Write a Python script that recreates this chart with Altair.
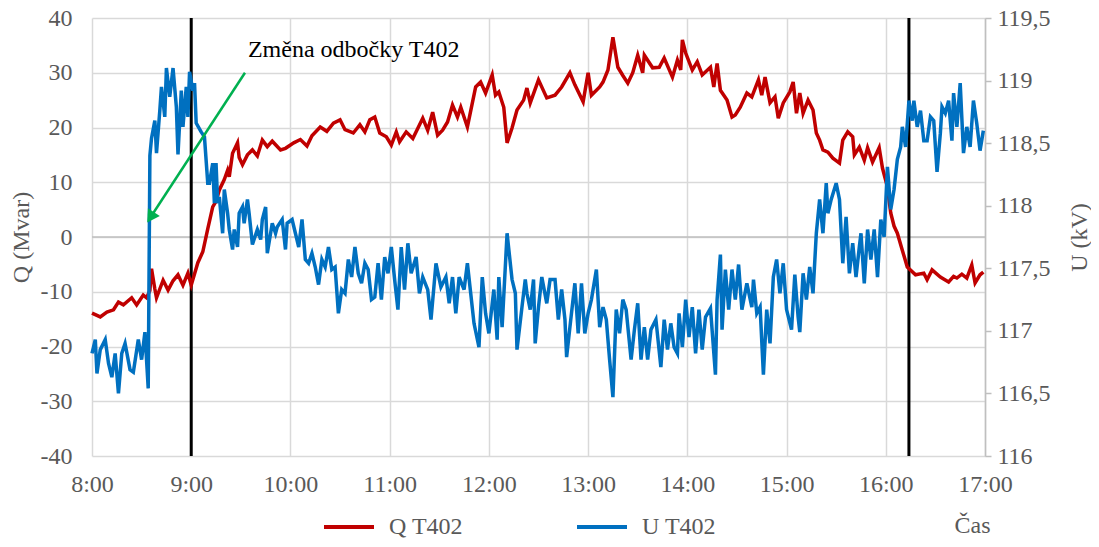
import altair as alt
import pandas as pd

# ---- data (minutes after 8:00) ----
q_minutes = [0,5,9,13,16,19,24,27,31,33,35,36,38,39,43,46,49,52,55,58,60,64,67,70,73,75,77,80,82,83,85,88,89,91,94,97,100,103,106,109,114,117,122,126,130,133,138,142,146,150,153,158,162,165,168,171,174,178,181,184,186,190,194,200,203,206,209,212,215,218,221,223,227,232,235,238,242,244,246,249,251,254,257,261,263,265,270,275,280,284,289,292,297,300,302,307,309,312,315,318,321,324,327,330,333,334,339,343,346,351,354,356,357,359,363,366,369,374,376,378,380,384,387,389,392,396,399,403,405,407,410,413,415,418,422,424,426,428,430,433,436,438,440,442,445,448,452,454,457,460,461,464,467,469,472,476,478,481,483,485,487,490,493,498,503,505,508,513,518,521,523,526,529,532,534,537,539]
q_values = [-13.9,-14.6,-13.7,-13.3,-11.9,-12.4,-11.1,-12.4,-10.6,-11.1,-9.8,-5.8,-9.5,-11.1,-7.9,-9.7,-8.0,-6.9,-8.8,-6.6,-8.8,-4.7,-2.7,1.5,5.5,6.5,8.6,10.5,12.2,11.0,15.3,17.2,14.5,13.2,15.0,15.9,14.8,17.7,16.5,17.5,15.9,16.2,17.2,17.8,16.6,18.5,20.1,19.3,20.8,21.4,19.6,19.0,20.5,19.2,21.4,21.9,19.0,18.3,16.8,19.2,17.4,19.2,18.0,21.7,19.5,22.8,18.6,19.5,21.0,24.1,21.9,23.7,20.1,27.4,28.3,26.3,29.6,25.9,26.5,23.7,17.2,19.9,23.2,25.0,27.2,24.5,28.7,25.4,25.9,27.4,30.0,27.8,24.7,30.0,25.9,27.4,28.3,30.5,36.5,31.0,29.5,28.1,30.0,33.2,30.0,33.2,30.9,31.0,32.7,29.2,32.3,30.5,36.0,33.6,30.5,32.0,29.6,31.0,27.4,31.7,26.8,25.0,21.9,22.3,23.7,26.3,25.6,28.7,25.9,29.2,24.5,25.6,21.7,24.5,26.5,28.3,22.6,26.3,22.6,25.0,23.2,19.0,17.7,15.9,15.5,14.4,13.5,17.7,19.2,18.3,15.0,16.4,14.0,16.3,13.7,16.3,12.6,9.1,4.4,2.0,0.7,-2.4,-5.5,-6.9,-6.6,-7.8,-6.0,-7.3,-8.2,-7.2,-7.5,-6.8,-7.5,-5.1,-8.4,-6.9,-6.4]

u_minutes = [0,2,3,5,8,10,12,14,16,18,20,23,25,28,30,32,34,35,36,38,39,41,42,44,45,47,49,51,52,54,55,57,58,59,61,62,63,66,68,70,71,73,74,75,76,77,79,80,82,83,85,86,88,89,91,92,94,95,97,100,102,103,105,106,109,111,112,115,117,118,121,123,125,127,129,131,133,135,137,139,141,143,145,147,149,151,153,155,157,159,161,163,165,167,169,171,173,175,177,179,181,183,185,187,189,191,193,196,198,200,203,205,208,211,214,216,218,220,222,225,227,229,231,234,236,238,240,243,245,246,248,251,254,256,257,260,262,263,265,267,268,270,272,275,277,280,282,284,286,287,289,292,294,296,298,300,302,305,307,309,311,313,315,317,319,321,323,326,328,330,332,334,336,338,341,344,346,348,350,352,354,355,357,359,361,363,365,367,369,371,374,377,378,380,381,383,385,387,389,391,393,396,399,400,402,404,406,408,410,412,414,416,418,420,423,425,427,428,430,432,434,436,438,440,442,444,445,447,450,452,454,456,458,460,462,464,465,467,469,471,473,475,477,479,481,483,485,487,489,490,492,494,496,497,499,501,503,505,507,509,511,513,514,516,518,520,521,523,525,527,529,531,533,535,537,539]
u_values = [116.82,116.93,116.66,116.85,116.93,116.74,116.63,116.82,116.50,116.82,116.90,116.69,116.67,116.93,116.77,116.99,116.54,118.40,118.54,118.68,118.42,118.76,118.95,118.71,119.10,118.87,119.10,118.79,118.41,118.92,118.63,118.95,118.71,119.07,118.92,118.98,118.66,118.59,118.55,118.18,118.18,118.34,118.02,118.34,118.02,118.07,117.78,118.13,117.94,117.81,117.65,117.81,117.67,117.94,117.99,117.86,118.05,117.94,117.69,117.81,117.73,117.89,117.99,117.62,117.86,117.78,117.83,117.89,117.65,117.86,117.89,117.78,117.67,117.89,117.57,117.54,117.62,117.51,117.37,117.57,117.51,117.67,117.49,117.51,117.14,117.33,117.30,117.57,117.43,117.67,117.46,117.38,117.54,117.49,117.25,117.27,117.54,117.25,117.59,117.46,117.67,117.41,117.17,117.67,117.33,117.70,117.46,117.59,117.30,117.43,117.33,117.09,117.54,117.35,117.43,117.22,117.43,117.14,117.43,117.33,117.54,117.30,117.06,116.87,117.43,117.14,116.98,117.33,116.93,117.43,117.03,117.78,117.41,117.30,116.85,117.19,117.41,117.30,117.17,117.41,116.90,117.19,117.43,117.22,117.41,117.41,117.09,117.33,117.09,116.79,117.03,117.38,116.98,117.38,116.98,117.14,117.25,117.49,117.03,117.19,117.09,116.77,116.47,117.17,116.98,117.25,117.17,116.77,117.01,117.22,116.77,117.03,116.77,117.01,117.09,116.71,117.09,116.85,117.06,116.87,116.82,117.14,116.87,117.25,116.95,117.19,116.82,117.17,116.85,117.11,117.18,116.65,117.25,117.61,117.01,117.49,117.17,117.49,117.25,117.53,117.17,117.38,117.19,117.41,117.14,117.19,116.65,117.17,116.90,117.43,117.57,117.30,117.54,117.17,117.01,117.45,117.11,116.99,117.46,117.25,117.51,117.30,117.78,118.05,117.78,118.18,117.94,118.05,118.18,118.05,117.54,117.91,117.46,117.70,117.43,117.67,117.78,117.38,117.81,117.57,117.81,117.43,117.89,117.75,118.31,117.97,118.13,118.37,118.47,118.63,118.47,118.84,118.68,118.84,118.63,118.76,118.52,118.52,118.71,118.68,118.27,118.58,118.79,118.74,118.84,118.52,118.90,118.63,118.98,118.42,118.63,118.47,118.84,118.66,118.44,118.60]

hour_ticks = [0, 60, 120, 180, 240, 300, 360, 420, 480, 540]
q_ticks = [-40, -30, -20, -10, 0, 10, 20, 30, 40]
u_ticks = [116.0, 116.5, 117.0, 117.5, 118.0, 118.5, 119.0, 119.5]
marker_minutes = [60, 494]
series_names = ["Q T402", "U T402"]
series_colors = ["#C00000", "#0070C0"]
annotation_text = ["Změna odbočky T402"]
annotation_pos = [94.3, 34.2]          # minutes, Mvar
arrow_start = [92.5, 30.0]
arrow_end = [35.4, 3.6]

FONT = "Liberation Serif"
GREY = "#595959"
GRID = "#D9D9D9"
FS = 24

df_q = pd.DataFrame({"m": q_minutes, "v": q_values, "series": series_names[0]})
df_u = pd.DataFrame({"m": u_minutes, "v": u_values, "series": series_names[1]})
df_mark = pd.DataFrame({"m": marker_minutes})
df_zero = pd.DataFrame({"v": [0]})
df_arrow = pd.DataFrame({"m": [arrow_start[0]], "v": [arrow_start[1]],
                         "m2": [arrow_end[0]], "v2": [arrow_end[1]]})
df_head = pd.DataFrame({"m": [arrow_end[0]], "v": [arrow_end[1]]})
df_text = pd.DataFrame({"m": [annotation_pos[0]], "v": [annotation_pos[1]], "t": annotation_text})

xscale = alt.Scale(domain=[0, 540], nice=False, zero=False)
qscale = alt.Scale(domain=[-40, 40], nice=False, zero=False)
uscale = alt.Scale(domain=[116, 119.5], nice=False, zero=False)

x_axis = alt.Axis(values=hour_ticks, labelExpr="floor(datum.value/60)+8 + ':00'",
                  grid=True, gridColor=GRID, gridWidth=1.5, ticks=False, domain=False,
                  labelFont=FONT, labelFontSize=FS, labelColor=GREY, labelPadding=16,
                  labelFlush=False, labelOverlap=False,
                  title="Čas", titleX=898, titleY=69, titleAlign="right", titleBaseline="middle",
                  titleFont=FONT, titleFontSize=FS, titleFontWeight="normal", titleColor=GREY)

q_axis = alt.Axis(values=q_ticks, orient="left", grid=True, gridColor=GRID, gridWidth=1.5,
                  ticks=False, domain=False, labelFont=FONT, labelFontSize=FS, labelColor=GREY,
                  labelExpr="datum.value < 0 ? '-' + abs(datum.value) : '' + datum.value",
                  labelPadding=20, labelFlush=False, labelOverlap=False,
                  title="Q (Mvar)", titleAngle=270, titleX=-71, titleY=219, titleAlign="center",
                  titleBaseline="middle", titleFont=FONT, titleFontSize=FS,
                  titleFontWeight="normal", titleColor=GREY)

u_axis = alt.Axis(values=u_ticks, orient="right", grid=False, ticks=True, tickColor="#BFBFBF",
                  tickSize=6, tickWidth=1.5, domain=True, domainColor="#BFBFBF", domainWidth=1.5,
                  labelExpr="replace(format(datum.value, '.1~f'), '.', ',')",
                  labelFont=FONT, labelFontSize=FS, labelColor=GREY, labelPadding=6,
                  labelFlush=False, labelOverlap=False,
                  title="U (kV)", titleAngle=270, titleX=94, titleY=219, titleAlign="center",
                  titleBaseline="middle", titleFont=FONT, titleFontSize=FS,
                  titleFontWeight="normal", titleColor=GREY)

legend = alt.Legend(orient="none", legendX=230, legendY=482, direction="horizontal",
                    title=None, symbolType="stroke", symbolSize=2500, symbolStrokeWidth=4,
                    labelFont=FONT, labelFontSize=FS, labelColor=GREY, labelOffset=13,
                    columnPadding=106, labelLimit=0)
cscale = alt.Scale(domain=series_names, range=series_colors)

zero_rule = alt.Chart(df_zero).mark_rule(color="#BFBFBF", strokeWidth=1.5).encode(
    y=alt.Y("v:Q", scale=qscale, axis=None))
vlines = alt.Chart(df_mark).mark_rule(color="black", strokeWidth=3).encode(
    x=alt.X("m:Q", scale=xscale))
q_line = alt.Chart(df_q).mark_line(strokeWidth=3.5).encode(
    x=alt.X("m:Q", scale=xscale, axis=x_axis),
    y=alt.Y("v:Q", scale=qscale, axis=q_axis),
    color=alt.Color("series:N", scale=cscale, legend=legend))
u_line = alt.Chart(df_u).mark_line(strokeWidth=3.5).encode(
    x=alt.X("m:Q", scale=xscale),
    y=alt.Y("v:Q", scale=uscale, axis=u_axis),
    color=alt.Color("series:N", scale=cscale))
arrow = alt.Chart(df_arrow).mark_rule(color="#00B050", strokeWidth=2.5).encode(
    x=alt.X("m:Q", scale=xscale), x2="m2:Q",
    y=alt.Y("v:Q", scale=qscale, axis=None), y2="v2:Q")
head = alt.Chart(df_head).mark_point(shape="triangle-up", angle=213, size=200, filled=True,
                                     color="#00B050", opacity=1).encode(
    x=alt.X("m:Q", scale=xscale),
    y=alt.Y("v:Q", scale=qscale, axis=None))
label = alt.Chart(df_text).mark_text(align="left", baseline="middle", font=FONT, fontSize=FS,
                                     color="black").encode(
    x=alt.X("m:Q", scale=xscale),
    y=alt.Y("v:Q", scale=qscale, axis=None),
    text="t:N")

chart = alt.layer(zero_rule, vlines, q_line, u_line, arrow, head, label).resolve_scale(
    y="independent").properties(
    width=893, height=438,
    padding={"left": 84, "top": 10, "right": 106, "bottom": 83},
    autosize=alt.AutoSizeParams(type="none"),
    background="white",
).configure_view(stroke=None)

chart.save("out.html", embed_options={"renderer": "svg", "actions": False})
